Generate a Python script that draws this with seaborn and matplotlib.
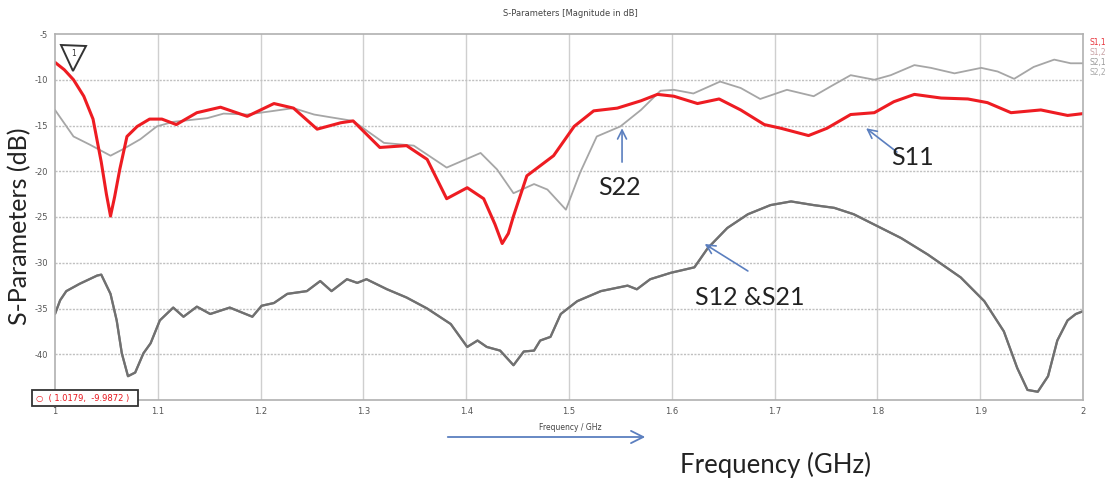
import numpy as np
import pandas as pd
import matplotlib
matplotlib.use("Agg")
import matplotlib.pyplot as plt
import seaborn as sns

# Frequency sweep samples (GHz) and magnitudes (dB) for each S-parameter
s11_freq = [1.000, 1.009, 1.018, 1.028, 1.037, 1.045, 1.050, 1.054, 1.058, 1.063,
            1.070, 1.080, 1.092, 1.104, 1.118, 1.138, 1.161, 1.187, 1.213, 1.232,
            1.255, 1.278, 1.290, 1.316, 1.342, 1.362, 1.381, 1.401, 1.417, 1.428,
            1.435, 1.441, 1.446, 1.459, 1.472, 1.485, 1.505, 1.524, 1.547, 1.570,
            1.586, 1.602, 1.625, 1.646, 1.667, 1.690, 1.706, 1.733, 1.751, 1.774,
            1.797, 1.816, 1.836, 1.862, 1.888, 1.907, 1.930, 1.959, 1.985, 2.000]
s11_db = [-8.1, -8.9, -10.0, -11.8, -14.3, -19.0, -22.5, -24.9, -22.8, -19.8,
          -16.2, -15.1, -14.3, -14.3, -14.9, -13.6, -13.0, -14.0, -12.6, -13.1,
          -15.4, -14.7, -14.5, -17.4, -17.2, -18.7, -23.0, -21.8, -23.0, -25.8,
          -27.9, -26.8, -24.9, -20.5, -19.4, -18.3, -15.1, -13.4, -13.1, -12.3,
          -11.6, -11.8, -12.6, -12.1, -13.3, -14.9, -15.3, -16.1, -15.3, -13.8,
          -13.6, -12.4, -11.6, -12.0, -12.1, -12.5, -13.6, -13.3, -13.9, -13.7]

s22_freq = [1.000, 1.018, 1.034, 1.054, 1.066, 1.083, 1.099, 1.115, 1.148, 1.164,
            1.187, 1.213, 1.232, 1.252, 1.268, 1.290, 1.320, 1.349, 1.381, 1.414,
            1.430, 1.446, 1.466, 1.479, 1.497, 1.511, 1.527, 1.550, 1.570, 1.589,
            1.602, 1.621, 1.647, 1.667, 1.686, 1.712, 1.738, 1.755, 1.774, 1.797,
            1.813, 1.836, 1.852, 1.875, 1.901, 1.917, 1.933, 1.952, 1.972, 1.988,
            2.000]
s22_db = [-13.3, -16.2, -17.1, -18.3, -17.6, -16.5, -15.1, -14.6, -14.2, -13.7,
          -13.8, -13.4, -13.1, -13.8, -14.1, -14.5, -16.9, -17.2, -19.6, -18.0,
          -19.8, -22.4, -21.4, -22.0, -24.2, -20.1, -16.2, -15.1, -13.3, -11.2,
          -11.1, -11.5, -10.2, -10.9, -12.1, -11.1, -11.8, -10.7, -9.5, -10.0,
          -9.5, -8.4, -8.7, -9.3, -8.7, -9.1, -9.9, -8.6, -7.8, -8.2,
          -8.2]

s21_freq = [1.000, 1.005, 1.011, 1.024, 1.041, 1.045, 1.054, 1.060, 1.065, 1.071,
            1.078, 1.086, 1.093, 1.102, 1.115, 1.125, 1.138, 1.151, 1.170, 1.192,
            1.201, 1.213, 1.226, 1.245, 1.258, 1.269, 1.284, 1.294, 1.303, 1.323,
            1.342, 1.362, 1.385, 1.401, 1.411, 1.420, 1.433, 1.446, 1.456, 1.466,
            1.472, 1.482, 1.492, 1.508, 1.531, 1.557, 1.566, 1.579, 1.599, 1.622,
            1.635, 1.654, 1.674, 1.696, 1.716, 1.738, 1.758, 1.777, 1.800, 1.823,
            1.849, 1.881, 1.904, 1.923, 1.936, 1.946, 1.956, 1.966, 1.975, 1.985,
            1.993, 2.000]
s21_db = [-35.6, -34.1, -33.1, -32.3, -31.4, -31.3, -33.4, -36.3, -39.9, -42.4,
          -42.0, -39.9, -38.8, -36.3, -34.9, -35.9, -34.8, -35.6, -34.9, -35.9,
          -34.7, -34.4, -33.4, -33.1, -32.0, -33.1, -31.8, -32.2, -31.8, -32.9,
          -33.8, -35.0, -36.7, -39.2, -38.5, -39.2, -39.6, -41.2, -39.7, -39.6,
          -38.5, -38.1, -35.6, -34.2, -33.1, -32.5, -32.9, -31.8, -31.1, -30.5,
          -28.4, -26.2, -24.7, -23.7, -23.3, -23.7, -24.0, -24.7, -26.0, -27.3,
          -29.1, -31.6, -34.2, -37.5, -41.5, -43.9, -44.1, -42.4, -38.5, -36.3,
          -35.6, -35.3]
# reciprocal network: S1,2 follows S2,1
s12_db = list(s21_db)

x_ticks = [1.0, 1.1, 1.2, 1.3, 1.4, 1.5, 1.6, 1.7, 1.8, 1.9, 2.0]
x_tick_labels = ["1", "1.1", "1.2", "1.3", "1.4", "1.5", "1.6", "1.7", "1.8", "1.9", "2"]
y_ticks = [-5, -10, -15, -20, -25, -30, -35, -40, -45]
# the -45 label sits under the marker read-out box
y_tick_labels = ["-5", "-10", "-15", "-20", "-25", "-30", "-35", "-40", ""]
legend_names = ["S1,1", "S1,2", "S2,1", "S2,2"]
legend_colors = ["#e8323a", "#c9a3a6", "#9a9a9a", "#a8a8a8"]

df = pd.concat([
    pd.DataFrame({"freq": s21_freq, "db": s12_db, "param": "S1,2"}),
    pd.DataFrame({"freq": s21_freq, "db": s21_db, "param": "S2,1"}),
    pd.DataFrame({"freq": s22_freq, "db": s22_db, "param": "S2,2"}),
    pd.DataFrame({"freq": s11_freq, "db": s11_db, "param": "S1,1"}),
])

sns.set_theme(style="white")
plt.rcParams["font.family"] = ["DejaVu Sans"]

fig = plt.figure(figsize=(11.17, 4.8), dpi=100)
ax = fig.add_axes([55 / 1117, 80 / 480, 1028 / 1117, 366 / 480])

palette = {"S1,2": "#8a8a8a", "S2,1": "#707070", "S2,2": "#a6a6a6", "S1,1": "#ee1c22"}
widths = {"S1,2": 1.6, "S2,1": 1.6, "S2,2": 1.3, "S1,1": 2.2}
for name in ["S1,2", "S2,1", "S2,2", "S1,1"]:
    sub = df[df["param"] == name]
    sns.lineplot(data=sub, x="freq", y="db", ax=ax, color=palette[name],
                 linewidth=widths[name], estimator=None, sort=False, legend=False)
for line in ax.get_lines():
    line.set_solid_joinstyle("round")

ax.set_xlim(1.0, 2.0)
ax.set_ylim(-45, -5)
ax.set_xticks(x_ticks)
ax.set_xticklabels(x_tick_labels)
ax.set_yticks(y_ticks)
ax.set_yticklabels(y_tick_labels)
ax.tick_params(axis="both", labelsize=6, colors="#555555", length=2, pad=3)
ax.set_xlabel("")
ax.set_ylabel("")

# grid: solid verticals, dotted horizontals
ax.grid(False)
for xv in x_ticks[1:-1]:
    ax.axvline(xv, color="#cfcfcf", linewidth=1.0, zorder=0)
for yv in y_ticks[1:-1]:
    ax.axhline(yv, color="#c0c0c0", linewidth=1.0, linestyle=(0, (1.5, 1)), zorder=0)
for sp in ax.spines.values():
    sp.set_color("#b0b0b0")
    sp.set_linewidth(1.2)

# title and small axis caption
fig.text(570 / 1117, 1 - 13 / 480, "S-Parameters [Magnitude in dB]", ha="center",
         va="center", fontsize=6, color="#444444")
fig.text(570 / 1117, 1 - 427 / 480, "Frequency / GHz", ha="center", va="center",
         fontsize=5.5, color="#444444")

# right-hand series names
for i, (nm, col) in enumerate(zip(legend_names, legend_colors)):
    fig.text(1090 / 1117, 1 - (43 + 10 * i) / 480, nm, ha="left", va="center",
             fontsize=5.5, color=col)

# marker at 1.0179 GHz
ax.plot([1.0179], [-7.6], marker="v", markersize=18, markerfacecolor="white",
        markeredgecolor="#333333", markeredgewidth=1.4, zorder=5)
ax.text(1.0179, -7.1, "1", ha="center", va="center", fontsize=5.5, color="#333333", zorder=6)
fig.text(36 / 1117, 1 - 398 / 480, "\u25cb  ( 1.0179,  -9.9872 )  ", ha="left", va="center",
         fontsize=6, color="#e8141c", zorder=10,
         bbox=dict(boxstyle="square,pad=0.45", facecolor="white", edgecolor="#333333",
                   linewidth=1.3))

# large labels
big = ["Lato", "DejaVu Sans"]
fig.text(20 / 1117, 1 - 226 / 480, "S-Parameters (dB)", rotation=90, ha="center",
         va="center", fontsize=18, color="#222222", family=big)
fig.text(776 / 1117, 1 - 465 / 480, "Frequency (GHz)", ha="center", va="center",
         fontsize=18.5, color="#222222", family=big)

# annotation arrows and their labels
arrow_props = dict(arrowstyle="->", color="#5b7fbf", linewidth=1.2, mutation_scale=16,
                   shrinkA=0, shrinkB=0)
ax.annotate("", xy=(1.5516, -15.3), xytext=(1.5516, -19.0), arrowprops=arrow_props)
ax.text(1.549, -21.8, "S22", ha="center", va="center", fontsize=18, color="#222222",
        family=big)
ax.annotate("", xy=(1.789, -15.3), xytext=(1.819, -17.9), arrowprops=arrow_props)
ax.text(1.834, -18.5, "S11", ha="center", va="center", fontsize=18, color="#222222",
        family=big)
ax.annotate("", xy=(1.632, -27.95), xytext=(1.674, -30.9), arrowprops=arrow_props)
ax.text(1.676, -33.85, "S12 &S21", ha="center", va="center", fontsize=18, color="#222222",
        family=big)

# direction arrow under the frequency axis
fig.add_artist(matplotlib.patches.FancyArrowPatch(
    (445 / 1117, 1 - 437 / 480), (648 / 1117, 1 - 437 / 480),
    transform=fig.transFigure, arrowstyle="->", color="#5b7fbf", linewidth=1.3,
    mutation_scale=22))

fig.savefig("out.png", dpi=100, facecolor="white")
